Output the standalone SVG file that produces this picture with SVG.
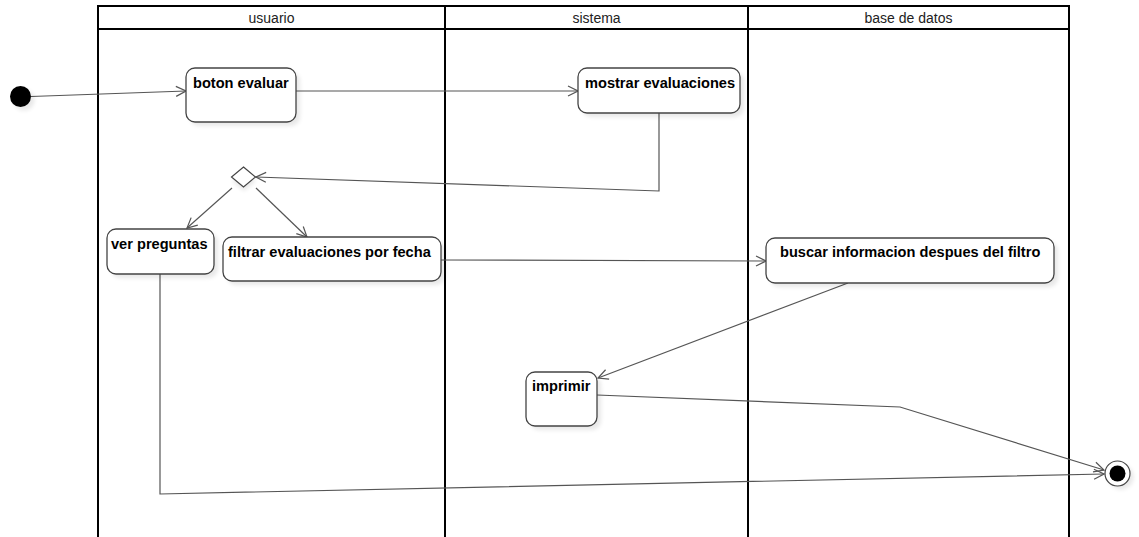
<svg xmlns="http://www.w3.org/2000/svg" width="1139" height="537" viewBox="0 0 1139 537">
<style>
.lane{fill:none;stroke:#000;stroke-width:2}
.hdr{font-family:"Liberation Sans",Arial,sans-serif;font-size:14px;fill:#222;text-anchor:middle}
.box{fill:#fff;stroke:#444;stroke-width:1.3}
.lbl{font-family:"Liberation Sans",Arial,sans-serif;font-size:14.6px;font-weight:bold;fill:#000}
.edge{fill:none;stroke:#555;stroke-width:1.2}
.sh{fill:#000;opacity:0.09}
</style>
<defs>
<marker id="arr" viewBox="0 0 12 12" refX="11" refY="6" markerWidth="12" markerHeight="12" markerUnits="userSpaceOnUse" orient="auto">
<path d="M1,1 L11,6 L1,11" fill="none" stroke="#555" stroke-width="1.2"/>
</marker>
<filter id="blur" x="-20%" y="-20%" width="140%" height="140%"><feGaussianBlur stdDeviation="2"/></filter>
</defs>
<rect width="1139" height="537" fill="#fff"/>
<g id="lanes">
<path class="lane" d="M98,537 V6 H1069 V537 M445,6 V537 M748,6 V537 M98,29 H1069"/>
<text class="hdr" x="271.5" y="23">usuario</text>
<text class="hdr" x="596.5" y="23">sistema</text>
<text class="hdr" x="908.5" y="23">base de datos</text>
</g>
<g id="connectors">
<path class="edge" d="M31,96.5 L186,91" marker-end="url(#arr)"/>
<path class="edge" d="M296,91 L578,91" marker-end="url(#arr)"/>
<path class="edge" d="M659,113 V191 L256,177" marker-end="url(#arr)"/>
<path class="edge" d="M232,188 L187,228" marker-end="url(#arr)"/>
<path class="edge" d="M256,188 L307,237" marker-end="url(#arr)"/>
<path class="edge" d="M441,260 L766,261" marker-end="url(#arr)"/>
<path class="edge" d="M848,283 L598,378" marker-end="url(#arr)"/>
<path class="edge" d="M597,395 L900,407 L1104,470" marker-end="url(#arr)"/>
<path class="edge" d="M160,274 V494 L1104,474" marker-end="url(#arr)"/>
</g>
<g id="initial">
<circle class="sh" cx="24" cy="100" r="10.5" filter="url(#blur)"/>
<circle cx="20.5" cy="96.5" r="10.5" fill="#000"/>
</g>
<g id="boton-evaluar">
<rect class="sh" x="190" y="72" width="110" height="54" rx="9" filter="url(#blur)"/>
<rect class="box" x="186" y="68" width="110" height="54" rx="9"/>
<text class="lbl" x="193" y="88">boton evaluar</text>
</g>
<g id="mostrar-evaluaciones">
<rect class="sh" x="582" y="72" width="162" height="45" rx="9" filter="url(#blur)"/>
<rect class="box" x="578" y="68" width="162" height="45" rx="9"/>
<text class="lbl" x="585" y="88">mostrar evaluaciones</text>
</g>
<g id="decision">
<path class="sh" d="M244,171 L256,181 L244,191 L232,181 Z" filter="url(#blur)"/>
<path d="M243.5,167 L255.5,177 L243.5,187 L231.5,177 Z" fill="#fff" stroke="#444" stroke-width="1.2"/>
</g>
<g id="ver-preguntas">
<rect class="sh" x="111" y="233" width="107" height="45" rx="9" filter="url(#blur)"/>
<rect class="box" x="107" y="229" width="107" height="45" rx="9"/>
<text class="lbl" x="111" y="249">ver preguntas</text>
</g>
<g id="filtrar">
<rect class="sh" x="227" y="241" width="218" height="44" rx="9" filter="url(#blur)"/>
<rect class="box" x="223" y="237" width="218" height="44" rx="9"/>
<text class="lbl" x="228" y="257">filtrar evaluaciones por fecha</text>
</g>
<g id="buscar">
<rect class="sh" x="770" y="242" width="288" height="45" rx="9" filter="url(#blur)"/>
<rect class="box" x="766" y="238" width="288" height="45" rx="9"/>
<text class="lbl" x="780" y="257">buscar informacion despues del filtro</text>
</g>
<g id="imprimir">
<rect class="sh" x="530" y="376" width="71" height="54" rx="9" filter="url(#blur)"/>
<rect class="box" x="526" y="372" width="71" height="54" rx="9"/>
<text class="lbl" x="532" y="391">imprimir</text>
</g>
<g id="final">
<circle class="sh" cx="1121" cy="477" r="12.5" filter="url(#blur)"/>
<circle cx="1117.5" cy="473.5" r="12.5" fill="#fff" stroke="#444" stroke-width="1.2"/>
<circle cx="1117.5" cy="473.5" r="8" fill="#000"/>
</g>
</svg>
